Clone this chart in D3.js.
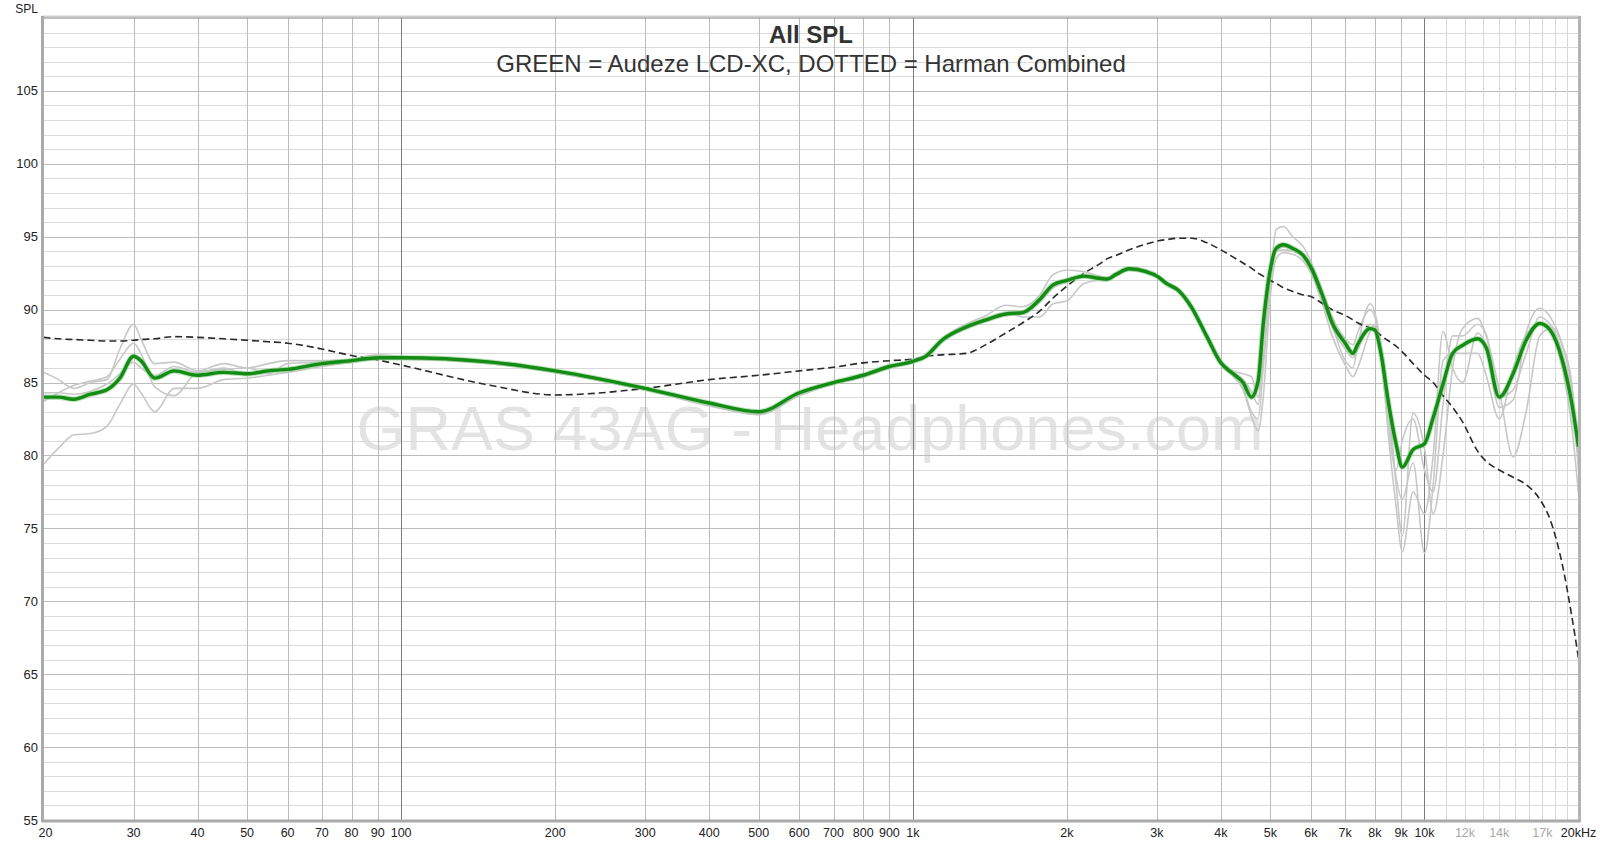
<!DOCTYPE html>
<html>
<head>
<meta charset="utf-8">
<script src="https://cdn.jsdelivr.net/npm/d3@7"></script>
<style>
  body { margin: 0; background: #fff; }
  svg { display: block; font-family: "Liberation Sans", Arial, sans-serif; }
</style>
</head>
<body>
<svg id="chart" width="1600" height="845"></svg>
<script>
// frequency grid (Hz) shared by every trace
var freqs = [
  20, 21.4, 22.9, 24.7, 26.6, 28.2, 30, 31, 33, 36,
  40, 45, 50, 55, 60, 70, 80, 90, 100, 150,
  200, 300, 400, 500, 600, 700, 800, 900, 1000, 1060,
  1140, 1270, 1390, 1520, 1640, 1770, 1880, 2000, 2160, 2310,
  2400, 2490, 2650, 2860, 3000, 3130, 3310, 3500, 3750, 4000,
  4230, 4420, 4590, 4730, 4840, 5000, 5130, 5300, 5530, 5800,
  6000, 6330, 6600, 7000, 7250, 7400, 7830, 8000, 8240, 8470,
  8800, 9050, 9500, 10000, 10400, 10870, 11350, 11870, 12700, 13200,
  14000, 14900, 15800, 16800, 17600, 18600, 19400, 20000
];

// GREEN = Audeze LCD-XC (average)
var lcdxc = [
  84.0, 84.0, 83.85, 84.2, 84.5, 85.3, 86.8, 86.5, 85.3, 85.8,
  85.5, 85.7, 85.6, 85.8, 85.9, 86.3, 86.5, 86.7, 86.7, 86.4,
  85.8, 84.6, 83.6, 83.0, 84.3, 85.0, 85.5, 86.1, 86.45, 86.8,
  87.9, 88.8, 89.3, 89.7, 89.8, 90.7, 91.7, 92.0, 92.3, 92.15,
  92.1, 92.4, 92.8, 92.6, 92.3, 91.8, 91.3, 90.2, 88.2, 86.35,
  85.6, 85.0, 84.0, 85.1, 89.0, 92.8, 94.2, 94.45, 94.2, 93.7,
  92.9, 90.9, 89.1, 87.7, 87.0, 87.6, 88.7, 88.6, 86.8, 84.0,
  80.8, 79.2, 80.4, 80.8, 82.6, 84.9, 87.0, 87.55, 88.0, 87.4,
  84.0, 85.6, 87.9, 89.05, 88.6, 86.5, 83.6, 80.6
];

// DOTTED = Harman Combined target
var harman = [
  88.1, 88.0, 87.95, 87.9, 87.85, 87.85, 87.9, 87.95, 88.0, 88.15,
  88.1, 88.0, 87.9, 87.8, 87.7, 87.3, 86.85, 86.55, 86.2, 84.8,
  84.15, 84.6, 85.2, 85.5, 85.8, 86.05, 86.35, 86.5, 86.6, 86.8,
  86.9, 87.0, 87.6, 88.4, 89.1, 89.9, 90.8, 91.6, 92.5, 93.1,
  93.5, 93.7, 94.1, 94.5, 94.7, 94.8, 94.9, 94.9, 94.6, 94.1,
  93.6, 93.2, 92.85, 92.5, 92.3, 92.0, 91.8, 91.5, 91.25, 91.0,
  90.9, 90.4, 90.0, 89.6, 89.3, 89.1, 88.75, 88.6, 88.2, 87.9,
  87.5, 87.1, 86.3, 85.5, 85.0, 84.1, 83.3, 82.3, 80.3, 79.6,
  79.0, 78.5, 78.0, 77.0, 75.6, 72.5, 69.0, 66.1
];

// individual measurements (grey)
var measA = [
  79.4, 80.5, 81.4, 81.5, 82.0, 83.5, 84.9, 84.3, 83.0, 84.6,
  84.6, 85.2, 85.3, 85.5, 85.7, 86.1, 86.4, 86.6, 86.6, 86.3,
  85.7, 84.5, 83.4, 82.8, 84.1, 84.9, 85.4, 86.0, 86.4, 86.8,
  88.0, 89.0, 89.6, 90.3, 90.2, 91.0, 92.4, 92.7, 92.6, 92.3,
  92.2, 92.5, 92.9, 92.7, 92.4, 91.9, 91.4, 90.3, 88.3, 86.5,
  85.8, 85.6, 85.4, 84.0, 86.5, 92.0, 95.5, 95.7, 95.0, 94.3,
  93.3, 91.2, 89.0, 86.5, 86.0, 87.5, 90.4, 89.8, 87.0, 82.0,
  76.5, 73.4, 77.5, 76.0, 80.0, 88.5, 86.0, 85.0, 88.4, 87.5,
  83.3, 83.8, 88.4, 90.1, 89.5, 87.6, 85.0, 80.0
];
var measB = [
  85.7, 85.2, 84.6, 85.0, 85.2, 87.3, 89.0, 88.0, 86.3, 86.4,
  85.8, 86.3, 86.0, 86.3, 86.5, 86.5, 86.6, 86.9, 86.8, 86.4,
  85.8, 84.6, 83.5, 82.8, 84.2, 85.0, 85.5, 86.2, 86.5, 86.9,
  88.0, 88.9, 89.4, 89.8, 89.5, 89.5, 90.4, 90.6, 91.8, 92.0,
  92.0, 92.4, 92.8, 92.6, 92.3, 91.8, 91.3, 90.2, 88.2, 86.3,
  85.5, 84.5, 82.7, 81.7, 84.0, 91.0, 93.5, 93.9, 93.8, 93.3,
  92.5, 90.3, 88.2, 86.2, 85.4, 86.0, 88.5, 89.0, 87.5, 84.5,
  78.0, 74.5, 82.9, 80.5, 76.0, 80.0, 86.0, 88.7, 89.4, 88.2,
  84.5, 79.9, 83.0, 88.2, 88.7, 86.0, 82.0, 77.4
];
var measC = [
  83.7, 84.3, 84.8, 85.1, 85.4, 86.6, 87.7, 87.0, 84.7, 84.1,
  85.7, 85.9, 86.0, 85.6, 86.3, 86.4, 86.5, 86.6, 86.6, 86.3,
  85.7, 84.5, 83.5, 82.9, 84.2, 84.9, 85.4, 86.0, 86.4, 86.7,
  87.8, 88.7, 89.2, 89.6, 89.7, 90.5, 91.5, 91.9, 92.2, 92.1,
  92.0, 92.3, 92.7, 92.5, 92.2, 91.7, 91.2, 90.1, 88.1, 86.2,
  85.4, 84.6, 83.0, 82.5, 86.0, 92.0, 94.0, 94.1, 94.0, 93.6,
  92.8, 91.2, 89.5, 88.0, 87.6, 88.4, 90.0, 89.5, 86.5, 82.5,
  79.0, 81.0, 82.5, 79.0, 77.5, 83.5, 88.2, 88.2, 89.0, 88.3,
  84.0, 84.5, 87.0, 89.5, 89.0, 87.5, 84.5, 79.0
];
var measD = [
  84.3, 84.3, 84.2, 84.4, 84.9, 85.6, 86.4, 86.0, 85.5, 86.1,
  85.7, 86.0, 85.5, 85.9, 85.8, 86.2, 86.4, 86.6, 86.6, 86.3,
  85.7, 84.5, 83.5, 82.9, 84.2, 84.9, 85.4, 86.0, 86.4, 86.7,
  87.8, 88.7, 89.3, 89.7, 89.8, 90.6, 91.6, 92.0, 92.3, 92.1,
  92.1, 92.4, 92.8, 92.6, 92.3, 91.8, 91.3, 90.2, 88.2, 86.4,
  85.7, 85.2, 84.4, 83.5, 88.0, 92.5, 94.0, 94.3, 94.1, 93.6,
  92.7, 90.6, 88.8, 87.3, 86.7, 87.2, 89.0, 88.8, 86.6, 83.5,
  78.5, 77.0, 79.5, 73.3, 78.0, 86.5, 87.0, 87.0, 87.0, 85.5,
  82.5, 86.0, 88.3, 89.0, 88.8, 87.0, 84.0, 79.5
];

// axis ticks
var yLabels = [55, 60, 65, 70, 75, 80, 85, 90, 95, 100, 105];
var xLabels = [20, 30, 40, 50, 60, 70, 80, 90, 100, 200, 300, 400, 500, 600, 700, 800, 900,
               1000, 2000, 3000, 4000, 5000, 6000, 7000, 8000, 9000, 10000, 12000, 14000, 17000, 20000];
var xFaint = [12000, 14000, 17000];

var svg = d3.select('#chart');
var margin = {top: 18, right: 21.5, bottom: 25, left: 43.5};
var width = 1600, height = 845;

var x = d3.scaleLog()
    .domain([20, 20000])
    .range([margin.left, width - margin.right]);

var y = d3.scaleLinear()
    .domain([55, 110])
    .range([height - margin.bottom, margin.top]);

// watermark (under the grid)
svg.append('text')
    .attr('x', 810)
    .attr('y', 428)
    .attr('text-anchor', 'middle')
    .attr('dominant-baseline', 'central')
    .style('font-size', '63px')
    .style('fill', '#e3e3e3')
    .text('GRAS 43AG - Headphones.com');

// horizontal grid, every dB
var grid = svg.append('g');
d3.range(56, 110).forEach(function(v) {
    grid.append('line')
        .attr('x1', x(20)).attr('x2', x(20000))
        .attr('y1', Math.round(y(v)) + 0.5).attr('y2', Math.round(y(v)) + 0.5)
        .attr('stroke', v % 5 === 0 ? '#bcbcbc' : '#dadada')
        .attr('stroke-width', 1);
});

// vertical grid
var vLines = [];
[10, 100, 1000].forEach(function(dec) {
    for (var m = 1; m <= 9; m++) {
        var f = dec * m;
        if (f > 20 && f < 20000 && !(dec === 10 && m === 1)) vLines.push(f);
    }
});
vLines.push(10000);
d3.range(11000, 20000, 1000).forEach(function(f) { vLines.push(f); });

grid.selectAll('.vline')
    .data(vLines)
    .enter()
    .append('line')
    .attr('x1', function(d) { return Math.round(x(d)) + 0.5; })
    .attr('x2', function(d) { return Math.round(x(d)) + 0.5; })
    .attr('y1', y(110)).attr('y2', y(55))
    .attr('stroke', function(d) {
        if (d === 100 || d === 1000 || d === 10000) return '#7c7c7c';
        if (d > 10000) return '#d8d8d8';
        return '#bcbcbc';
    })
    .attr('stroke-width', 1);

// traces
function series(vals) {
    return freqs.map(function(f, i) { return {f: f, v: vals[i]}; });
}

var line = d3.line()
    .x(function(d) { return x(d.f); })
    .y(function(d) { return y(d.v); })
    .curve(d3.curveMonotoneX);

var plot = svg.append('g');

[measA, measB, measC, measD].forEach(function(m) {
    plot.append('path')
        .datum(series(m))
        .attr('d', line)
        .attr('fill', 'none')
        .attr('stroke', '#c8c8c8')
        .attr('stroke-width', 1.6);
});

plot.append('path')
    .datum(series(harman))
    .attr('d', line)
    .attr('fill', 'none')
    .attr('stroke', '#2a2a2a')
    .attr('stroke-width', 1.6)
    .attr('stroke-dasharray', '7,4');

// green trace with a soft halo
plot.append('path')
    .datum(series(lcdxc))
    .attr('d', line)
    .attr('fill', 'none')
    .attr('stroke', '#8fcf8f')
    .attr('stroke-width', 5.5)
    .attr('stroke-opacity', 0.6);

plot.append('path')
    .datum(series(lcdxc))
    .attr('d', line)
    .attr('fill', 'none')
    .attr('stroke', '#138c13')
    .attr('stroke-width', 3.4);

// frame
var frame = svg.append('g');
frame.append('line')
    .attr('x1', x(20) - 1).attr('x2', x(20000) + 1)
    .attr('y1', 16.5).attr('y2', 16.5)
    .attr('stroke', '#d0d0d0').attr('stroke-width', 2);
frame.append('line')
    .attr('x1', x(20)).attr('x2', x(20000))
    .attr('y1', 18).attr('y2', 18)
    .attr('stroke', '#8a8a8a').attr('stroke-width', 1);
frame.append('line')
    .attr('x1', x(20) - 1).attr('x2', x(20) - 1)
    .attr('y1', 16).attr('y2', y(55) + 2)
    .attr('stroke', '#aaaaaa').attr('stroke-width', 3);
frame.append('line')
    .attr('x1', x(20000) + 1).attr('x2', x(20000) + 1)
    .attr('y1', 16).attr('y2', y(55) + 2)
    .attr('stroke', '#b4b4b4').attr('stroke-width', 3);
frame.append('line')
    .attr('x1', x(20) - 2).attr('x2', x(20000) + 2)
    .attr('y1', y(55) + 1).attr('y2', y(55) + 1)
    .attr('stroke', '#aaaaaa').attr('stroke-width', 3);

// y labels
svg.append('g')
    .selectAll('text')
    .data(yLabels)
    .enter()
    .append('text')
    .attr('x', 38)
    .attr('y', function(d) { return y(d); })
    .attr('text-anchor', 'end')
    .attr('dominant-baseline', 'central')
    .style('font-size', '13px')
    .style('fill', '#222')
    .text(function(d) { return d; });

svg.append('text')
    .attr('x', 38)
    .attr('y', 13)
    .attr('text-anchor', 'end')
    .style('font-size', '12px')
    .style('fill', '#222')
    .text('SPL');

// x labels
function fmt(f) {
    if (f === 20000) return '20kHz';
    if (f >= 1000) return (f / 1000) + 'k';
    return '' + f;
}

svg.append('g')
    .selectAll('text')
    .data(xLabels)
    .enter()
    .append('text')
    .attr('x', function(d) { return x(d) + (d === 20 ? 2 : 0); })
    .attr('y', 837)
    .attr('text-anchor', 'middle')
    .style('font-size', '12.5px')
    .style('fill', function(d) { return xFaint.indexOf(d) >= 0 ? '#a8a8a8' : '#222'; })
    .text(fmt);

// titles
svg.append('text')
    .attr('x', 811)
    .attr('y', 43)
    .attr('text-anchor', 'middle')
    .style('font-size', '24px')
    .style('font-weight', 'bold')
    .style('fill', '#333')
    .text('All SPL');

svg.append('text')
    .attr('x', 811)
    .attr('y', 72)
    .attr('text-anchor', 'middle')
    .style('font-size', '24px')
    .style('fill', '#333')
    .text('GREEN = Audeze LCD-XC, DOTTED = Harman Combined');
</script>
</body>
</html>
